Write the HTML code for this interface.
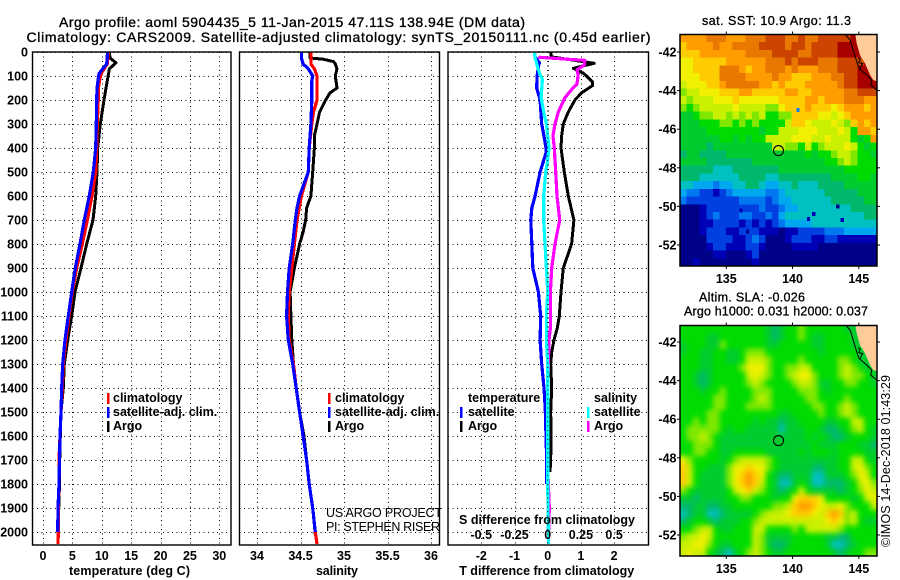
<!DOCTYPE html>
<html>
<head>
<meta charset="utf-8">
<title>Argo profile</title>
<style>
html,body{margin:0;padding:0;background:#fff;}
svg{display:block;}
text{font-family:"Liberation Sans",sans-serif;fill:#000;}
.t{font-size:14px;stroke:#000;stroke-width:.35px;}
.b{font-size:12.5px;font-weight:bold;}
.m{font-size:12.5px;stroke:#000;stroke-width:.3px;}
.n{font-size:12.5px;}
</style>
</head>
<body>
<svg id="chart" xmlns="http://www.w3.org/2000/svg" width="900" height="580" viewBox="0 0 900 580">
<defs>
<clipPath id="clip-p1"><rect x="32.5" y="52" width="198.5" height="493"/></clipPath>
<clipPath id="clip-p2"><rect x="239.5" y="52" width="200" height="493"/></clipPath>
<clipPath id="clip-p3"><rect x="448" y="52" width="200.5" height="493"/></clipPath>
<clipPath id="clip-m1"><rect x="680" y="34.5" width="197" height="231.5"/></clipPath>
<clipPath id="clip-m2"><rect x="680" y="325.5" width="197" height="230.5"/></clipPath>
<filter id="smooth" x="-5%" y="-5%" width="110%" height="110%" color-interpolation-filters="sRGB"><feGaussianBlur stdDeviation="2.6"/></filter>
</defs>

<text class="t" x="59" y="27" textLength="466" lengthAdjust="spacing">Argo profile: aoml 5904435_5 11-Jan-2015 47.11S 138.94E (DM data)</text>
<text class="t" x="26.5" y="42" textLength="624" lengthAdjust="spacing">Climatology: CARS2009. Satellite-adjusted climatology: synTS_20150111.nc (0.45d earlier)</text>

<g id="p1"></g>
<g id="p2"></g>
<g id="p3"></g>

<text class="b" x="129.5" y="575" text-anchor="middle" textLength="121">temperature (deg C)</text>
<text class="b" x="337" y="575" text-anchor="middle" textLength="42">salinity</text>
<text class="b" x="546.7" y="575" text-anchor="middle" textLength="175">T difference from climatology</text>
<text class="b" x="547" y="524" text-anchor="middle" textLength="176">S difference from climatology</text>

<g>
<rect x="107" y="393" width="2.5" height="11" fill="#ff0000"/>
<rect x="107" y="407" width="2.5" height="11" fill="#0000ff"/>
<rect x="107" y="421" width="2.5" height="11" fill="#000"/>
<text class="b" x="113" y="402">climatology</text>
<text class="b" x="113" y="416">satellite-adj. clim.</text>
<text class="b" x="113" y="430">Argo</text>
</g>
<g>
<rect x="328" y="393" width="2.5" height="11" fill="#ff0000"/>
<rect x="328" y="407" width="2.5" height="11" fill="#0000ff"/>
<rect x="328" y="421" width="2.5" height="11" fill="#000"/>
<text class="b" x="335" y="402">climatology</text>
<text class="b" x="335" y="416">satellite-adj. clim.</text>
<text class="b" x="335" y="430">Argo</text>
<text class="n" x="326" y="517" textLength="116">US ARGO PROJECT</text>
<text class="n" x="326" y="531" textLength="114">PI: STEPHEN RISER</text>
</g>
<g>
<text class="b" x="468" y="402">temperature</text>
<rect x="460" y="407" width="2.5" height="11" fill="#0000ff"/>
<rect x="460" y="421" width="2.5" height="11" fill="#000"/>
<text class="b" x="468" y="416">satellite</text>
<text class="b" x="468" y="430">Argo</text>
<text class="b" x="594" y="402">salinity</text>
<rect x="587" y="407" width="2.5" height="11" fill="#00ffff"/>
<rect x="587" y="421" width="2.5" height="11" fill="#ff00ff"/>
<text class="b" x="594" y="416">satellite</text>
<text class="b" x="594" y="430">Argo</text>
</g>

<text class="m" x="776.5" y="25" text-anchor="middle" textLength="149">sat. SST: 10.9 Argo: 11.3</text>
<text class="m" x="752" y="301.5" text-anchor="middle" textLength="106">Altim. SLA: -0.026</text>
<text class="m" x="776" y="315.5" text-anchor="middle" textLength="184">Argo h1000: 0.031 h2000: 0.037</text>

<g id="m1"></g>
<g id="m2"></g>

<text class="n" transform="translate(890,547) rotate(-90)" textLength="172">©IMOS 14-Dec-2018 01:43:29</text>
</svg>

<script>
// ---- axis tick labels ----
const depthTicks = [0,100,200,300,400,500,600,700,800,900,1000,1100,1200,1300,1400,1500,1600,1700,1800,1900,2000];
const tempTicks = [0,5,10,15,20,25,30];
const salTicks = [34,34.5,35,35.5,36];
const salTickLabels = ['34','34.5','35','35.5','36'];
const tDiffTicks = [-2,-1,0,1,2];
const sDiffTicks = [-0.5,-0.25,0,0.25,0.5];
const lonTicks = [135,140,145];
const latTicks = [-42,-44,-46,-48,-50,-52];

// ---- temperature profiles ----
const tempArgoDepth = [0,25,45,70,150,200,300,400,500,600,700,800,900,1000,1100,1200,1300,1400,1500,1600,1700,1800,1900,2010];
const tempArgo = [11.29,11.4,12.42,11.3,10.72,10.38,9.75,9.3,9.19,8.96,8.5,7.43,6.47,5.44,4.88,4.2,3.63,3.46,3.06,2.95,2.84,2.8,2.67,2.61];
const tempClimDepth = [0,50,90,150,200,300,400,500,600,700,800,900,1000,1100,1200,1300,1400,1500,1600,1700,1800,1900,2000,2050];
const tempClim = [11.12,10.94,9.87,9.4,9.4,9.24,9.13,8.96,8.34,7.54,6.69,5.73,4.99,4.42,3.91,3.46,3.29,3.06,2.89,2.72,2.72,2.61,2.61,2.55];
const tempSatDepth = [0,50,90,150,200,300,400,500,600,700,800,900,1000,1100,1200,1300,1400,1500,1600,1700,1800,1900,2000];
const tempSat = [11.0,10.84,9.53,9.19,9.13,9.07,8.96,8.56,7.88,7.03,6.3,5.5,4.88,4.3,3.74,3.35,3.18,3.06,2.89,2.8,2.72,2.55,2.5];

// ---- salinity profiles ----
const salArgoDepth = [0,25,30,40,50,70,100,150,170,200,250,300,350,400,500,600,650,700,750,800,900,1000,1100,1200,1300,1400,1500,1600,1700,1800,1900,2010];
const salArgo = [34.61,34.61,34.76,34.88,34.9,34.92,34.9,34.92,34.84,34.79,34.72,34.69,34.66,34.66,34.64,34.62,34.57,34.56,34.53,34.49,34.43,34.38,34.39,34.4,34.42,34.45,34.49,34.54,34.57,34.6,34.64,34.67];
const salClimDepth = [0,25,50,70,100,200,250,300,400,500,600,700,800,900,1000,1100,1200,1300,1400,1500,1600,1700,1800,1900,2000,2050];
const salClim = [34.62,34.62,34.62,34.66,34.69,34.69,34.65,34.63,34.6,34.59,34.51,34.46,34.43,34.4,34.37,34.36,34.37,34.42,34.45,34.49,34.53,34.57,34.6,34.64,34.67,34.69];
const salSatDepth = [0,25,50,70,100,120,200,300,400,500,600,650,700,800,900,1000,1100,1200,1300,1400,1500,1600,1700,1800,1900,2000];
const salSat = [34.51,34.51,34.53,34.59,34.64,34.63,34.63,34.62,34.6,34.59,34.49,34.46,34.44,34.41,34.37,34.35,34.34,34.36,34.41,34.45,34.49,34.53,34.57,34.6,34.64,34.67];

// ---- difference profiles ----
const tDiffArgoDepth = [0,20,47,68,82,88,100,125,140,170,200,250,300,350,400,500,600,700,800,900,1000,1100,1150,1200,1250,1300,1400,1500,1600,1700,1750];
const tDiffArgo = [0.1,0.1,1.4,0.77,0.97,1.07,1.17,1.35,1.35,1.02,0.82,0.62,0.47,0.42,0.4,0.5,0.62,0.79,0.72,0.47,0.4,0.35,0.29,0.19,0.12,0.09,0.12,0.09,0.1,0.09,0.07];
const tDiffSatDepth = [0,20,45,60,100,150,200,300,350,400,420,500,600,650,700,800,900,1000,1100,1200,1300,1400,1500,1600,1700,1800];
const tDiffSat = [-0.4,-0.38,-0.25,-0.28,-0.32,-0.33,-0.23,-0.18,-0.11,-0.05,-0.05,-0.23,-0.38,-0.48,-0.51,-0.48,-0.45,-0.28,-0.21,-0.23,-0.18,-0.11,-0.07,-0.05,-0.03,-0.03];
const sDiffSatDepth = [0,25,55,90,115,190,250,300,400,450,500,600,700,800,900,1000,1100,1200,1300,1400,1800,1900,2000,2050];
const sDiffSat = [-0.1,-0.095,-0.08,-0.06,-0.04,-0.05,-0.03,-0.01,0.01,0,-0.015,-0.03,-0.03,-0.02,-0.01,0,-0.01,-0.01,0,0,0,0.002,0.005,0.005];
const sDiffArgoDepth = [20,22,35,55,75,95,135,150,190,250,300,350,400,500,600,700,800,900,1000,1100,1150,1200,1300,1400,1600,1700,1900,2000];
const sDiffArgo = [-0.07,-0.06,0.28,0.275,0.22,0.23,0.22,0.19,0.13,0.08,0.055,0.04,0.05,0.06,0.07,0.09,0.055,0.03,0.02,0.02,0.02,0.01,0.005,0,-0.002,-0.002,0.012,0.007];

// ---- map data: one character per cell, indexing mapPalette ----
const mapCodes = '0123456789abcdefg';
const mapPalette = ['#000088','#0000b8','#0040e0','#0078f0','#00a8f0','#00c0c0','#00b86c','#00cc30','#00dc00','#80e800','#c8f000','#f0f000','#ffcc00','#ff9c00','#e87800','#cc4400','#a80000'];
const sstRows = [
'ddddeeedddeeefffeefeefffffgggg',
'cddddeddeeeeffffeffeffffgggggg',
'cccdddddddeeeeffffeeffffgggggg',
'bbcccccddddddeeefefffeeeffffgg',
'bbcccceeedcddeeededddeeefffggg',
'bbbccceeeeddddeddcccdddeeffggg',
'abbbccdeeeeeddcdcccdddddeffggg',
'9aabbbcccddcccccddccdddddeefff',
'a9aaabbbcbbbbbbccccddcdddeeedd',
'989aaaaabaaaa99bcccdcccbcdddcd',
'77899aa9a9a9a8899ccccbbabcdddd',
'7778889989898888accbaaaba9cdcd',
'777788888888788aaabbbaaaba8ddc',
'7777778878788aaaabbbaabaaa878d',
'77776777777777aa998a89aaaba878',
'677666677777777777787889aa9887',
'7777666666677777777777889a9888',
'666665556666666777777777788888',
'666555555666655666666667777887',
'554443445566544556555666677777',
'433221234444433455555566666777',
'322222222333323445555556666677',
'000122222222322344555555556666',
'000123222332232455555555555566',
'000112222121212344445555555555',
'000122211222111011222233344444',
'000022221123200012221122111111',
'000012211122100001111000000000',
'000001100012000000000000000000',
'001000000001000000000000000000'
];
const slaRows = [
'888888888888876788988888877777',
'888877888888876788987788887777',
'788877988888877888887788887777',
'788778877899988888888788888777',
'8887788778aaa98888988888998777',
'8887788889bbb98899aa88889a9877',
'8876788888aba9889abb98889a9987',
'88767888889a988889aa9778899887',
'888788988889998888999878888888',
'888889988889a98888899888898888',
'8888899888999988888899889a9888',
'8888998888888887788889889a9888',
'88989988888787767788887788aa88',
'899999878877777577788766789a87',
'899a98777777777777787876678887',
'889998777777777777778777888776',
'889988778888877777878887888877',
'b98888789aaaa9877777777788aa87',
'ca887779bbcbb9877777667788ab98',
'ca877779bcdcb87667775577789ba8',
'ca877779bcdca87557875566678ab9',
'98777778abca987678a877776789ba',
'77677778899888788bcccb888878ab',
'6677667788888899acddcbaab9888a',
'5677556777789aaabcccbacdc9a888',
'678876777889aaaaaaaaaabcb9a877',
'889aa877888aa888898aaaaa988888',
'9aaba888888a977778888877668888',
'aabb9877888a976678888875567888',
'abaa8765789a987788888887678899'
];
// isolated cold pixels in the SST field: lon, lat, palette code
const sstSpotLon = [140.4,143.4,141.6,141.2,143.75,136.1,136.6];
const sstSpotLat = [-45.0,-50.0,-50.4,-50.65,-50.7,-50.2,-51.3];
const sstSpotCode = ['3','0','1','1','1','1','0'];

// ---- geography ----
const argoLon = [138.94];
const argoLat = [-47.11];
const landLon = [144.71,144.84,145.09,145.47,145.85,146.09,146.46,146.46];
const landLat = [-41.0,-41.55,-42.16,-42.59,-43.19,-43.45,-43.54,-41.0];
const coastLon = [143.96,144.34,144.58,144.84,145.01,145.6,145.97,145.9,146.4];
const coastLat = [-41.08,-41.38,-41.9,-42.5,-42.84,-43.19,-43.45,-43.71,-44.0];
const shelfLon = [144.95,145.1,145.0,145.3,145.2,145.1];
const shelfLat = [-42.3,-42.35,-42.55,-42.6,-42.7,-42.85];

// ---- axis functions ----
const depthY = d => 52 + 0.24 * d;
const tempX = v => 43 + 5.877 * v;
const salX = v => 257 + 87 * (v - 34);
const tDiffX = v => 547.7 + 33.2 * v;
const sDiffX = v => 547.7 + 132.8 * v;
const lonX = v => 726.3 + 13.25 * (v - 135);
const lat1Y = v => 52 + 19.3 * (-42 - v);
const lat2Y = v => 342 + 19.3 * (-42 - v);

const SVGNS = 'http://www.w3.org/2000/svg';
function mk(tag, parent, attrs, txt) {
  const e = document.createElementNS(SVGNS, tag);
  for (const k in attrs) e.setAttribute(k, attrs[k]);
  if (txt !== undefined) e.textContent = txt;
  parent.appendChild(e);
  return e;
}

function profileLine(parent, depths, values, xf, color, width, name) {
  const pts = depths.map((d, i) => xf(values[i]).toFixed(1) + ',' + depthY(d).toFixed(1)).join(' ');
  const el = mk('polyline', parent, {points: pts, fill: 'none', stroke: color, 'stroke-width': width, 'shape-rendering': 'crispEdges', 'stroke-linejoin': 'round'});
  
  
}

function panelFrame(g, x0, x1, xTicks, xf, xLabels, clipId, showY) {
  const y0 = 52, y1 = 545;
  xTicks.forEach(v => {
    const x = Math.round(xf(v)) + 0.5;
    const gl = mk('line', g, {x1: x, x2: x, y1: y0, y2: y1, stroke: '#000', 'stroke-dasharray': '1 3.5', 'shape-rendering': 'crispEdges'});
    
    
  });
  depthTicks.forEach(d => {
    const y = Math.round(depthY(d)) + 0.5;
    const gl = mk('line', g, {x1: x0, x2: x1, y1: y, y2: y, stroke: '#000', 'stroke-dasharray': '1 3.5', 'shape-rendering': 'crispEdges'});
    
    
    if (showY) {
      const lb = mk('text', g, {x: 28, y: depthY(d) + 4.5, 'text-anchor': 'end', 'class': 'b'}, String(d));
      
      
    }
  });
  xTicks.forEach((v, i) => {
    const lb = mk('text', g, {x: xf(v), y: 560, 'text-anchor': 'middle', 'class': 'b'}, xLabels[i]);
    
    
  });
  const series = mk('g', g, {'clip-path': 'url(#' + clipId + ')'});
  
  
  return series;
}

function panelBorder(g, x0, x1) {
  const r = mk('rect', g, {x: x0, y: 52, width: x1 - x0, height: 493, fill: 'none', stroke: '#000', 'stroke-width': 1.4});
  
  
}

// Panel 1
const p1 = document.getElementById('p1');
const s1 = panelFrame(p1, 32.5, 231, tempTicks, tempX, tempTicks.map(String), 'clip-p1', true);
profileLine(s1, tempArgoDepth, tempArgo, tempX, '#000', 3, 'argo-temperature-line');
profileLine(s1, tempClimDepth, tempClim, tempX, '#ff0000', 3.2, 'climatology-temperature-line');
profileLine(s1, tempSatDepth, tempSat, tempX, '#0000ff', 3.2, 'satellite-temperature-line');
panelBorder(p1, 32.5, 231);

// Panel 2
const p2 = document.getElementById('p2');
const s2 = panelFrame(p2, 239.5, 439.5, salTicks, salX, salTickLabels, 'clip-p2', false);
profileLine(s2, salArgoDepth, salArgo, salX, '#000', 3, 'argo-salinity-line');
profileLine(s2, salClimDepth, salClim, salX, '#ff0000', 3.2, 'climatology-salinity-line');
profileLine(s2, salSatDepth, salSat, salX, '#0000ff', 3.2, 'satellite-salinity-line');
panelBorder(p2, 239.5, 439.5);

// Panel 3
const p3 = document.getElementById('p3');
const s3 = panelFrame(p3, 448, 648.5, tDiffTicks, tDiffX, tDiffTicks.map(String), 'clip-p3', false);
const zeroTick = mk('line', p3, {x1: tDiffX(0), x2: tDiffX(0), y1: 52, y2: 545, stroke: '#000', 'stroke-dasharray': '1 3.5'});


profileLine(s3, tDiffArgoDepth, tDiffArgo, tDiffX, '#000', 3, 'argo-t-difference-line');
profileLine(s3, tDiffSatDepth, tDiffSat, tDiffX, '#0000ff', 3.2, 'satellite-t-difference-line');
profileLine(s3, sDiffArgoDepth, sDiffArgo, sDiffX, '#ff00ff', 3.2, 'argo-s-difference-line');
profileLine(s3, sDiffSatDepth, sDiffSat, sDiffX, '#00ffff', 3.2, 'satellite-s-difference-line');
panelBorder(p3, 448, 648.5);
sDiffTicks.forEach(v => {
  const lb = mk('text', p3, {x: sDiffX(v), y: 539, 'text-anchor': 'middle', 'class': 'b'}, String(v));
  
  
});

// Maps
function drawMap(g, rows, latY, top, bottom, clipId, smooth, xLabelY) {
  const left = 680, right = 877;
  const nr = rows.length, nc = rows[0].length;
  const clip = mk('g', g, {'clip-path': 'url(#' + clipId + ')'});
  
  
  const field = mk('g', clip, smooth ? {filter: 'url(#smooth)'} : {});
  
  
  const cw = (right - left) / nc, ch = (bottom - top) / nr;
  const pad = smooth ? 8 : 0;
  rows.forEach((row, r) => {
    for (let c = 0; c < row.length; c++) {
      const code = mapCodes.indexOf(row[c]);
      let x = left + c * cw, y = top + r * ch, w = cw, h = ch;
      if (c === 0) { x -= pad; w += pad; }
      if (c === row.length - 1) { w += pad; }
      if (r === 0) { y -= pad; h += pad; }
      if (r === nr - 1) { h += pad; }
      const cell = mk('rect', field, {x: x.toFixed(2), y: y.toFixed(2), width: (w + 0.6).toFixed(2), height: (h + 0.6).toFixed(2), fill: mapPalette[code], 'shape-rendering': 'crispEdges'});
      
      
    }
  });
  const land = mk('polygon', clip, {points: landLon.map((v, i) => lonX(v).toFixed(1) + ',' + latY(landLat[i]).toFixed(1)).join(' '), fill: '#ffcc99'});
  
  
  const coast = mk('polyline', clip, {points: coastLon.map((v, i) => lonX(v).toFixed(1) + ',' + latY(coastLat[i]).toFixed(1)).join(' '), fill: 'none', stroke: '#000', 'stroke-width': 1});
  
  
  const shelf = mk('polyline', clip, {points: shelfLon.map((v, i) => lonX(v).toFixed(1) + ',' + latY(shelfLat[i]).toFixed(1)).join(' '), fill: 'none', stroke: '#000', 'stroke-width': 1});
  
  
  const m = mk('circle', clip, {cx: lonX(argoLon[0]).toFixed(1), cy: latY(argoLat[0]).toFixed(1), r: 5, fill: 'none', stroke: '#000', 'stroke-width': 1.1});
  
  
  const fr = mk('rect', g, {x: left, y: top, width: right - left, height: bottom - top, fill: 'none', stroke: '#000', 'stroke-width': 1.5});
  
  
  lonTicks.forEach(v => {
    const x = lonX(v);
    [[top - 3, top], [bottom, bottom + 3]].forEach(p => {
      const t = mk('line', g, {x1: x, x2: x, y1: p[0], y2: p[1], stroke: '#000', 'stroke-width': 1});
      
      
    });
    const lb = mk('text', g, {x: x, y: xLabelY, 'text-anchor': 'middle', 'class': 'b'}, String(v));
    
    
  });
  latTicks.forEach(v => {
    const y = latY(v);
    [[left - 3, left], [right, right + 3]].forEach(p => {
      const t = mk('line', g, {x1: p[0], x2: p[1], y1: y, y2: y, stroke: '#000', 'stroke-width': 1});
      
      
    });
    const lb = mk('text', g, {x: 676.5, y: y + 4.5, 'text-anchor': 'end', 'class': 'b'}, String(v));
    
    
  });
  return clip;
}
const m1 = document.getElementById('m1');
const m1Field = drawMap(m1, sstRows, lat1Y, 34.5, 266, 'clip-m1', false, 283);
const m2 = document.getElementById('m2');
drawMap(m2, slaRows, lat2Y, 325.5, 556, 'clip-m2', true, 573);
sstSpotLon.forEach((v, i) => {
  const spot = mk('rect', m1Field, {x: (lonX(v) - 1.6).toFixed(1), y: (lat1Y(sstSpotLat[i]) - 1.9).toFixed(1), width: 3.3, height: 3.9, fill: mapPalette[mapCodes.indexOf(sstSpotCode[i])], 'shape-rendering': 'crispEdges'});
  
  
});
</script>
</body>
</html>
